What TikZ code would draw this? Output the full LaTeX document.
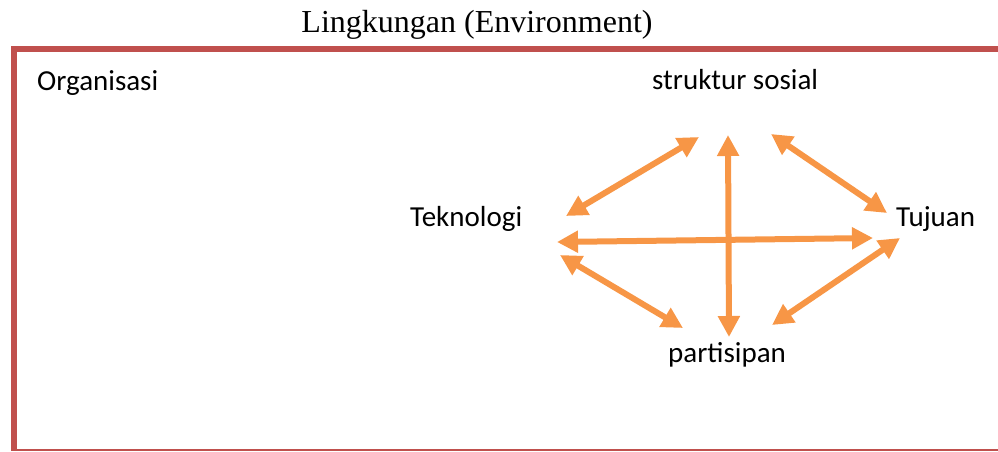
\documentclass[tikz,border=0pt]{standalone}
\usepackage{fontspec}
\setmainfont{Liberation Serif}
\newfontfamily\labelfont{Carlito}
\usetikzlibrary{arrows.meta}
\definecolor{frame}{HTML}{C0504D}
\definecolor{link}{HTML}{F79646}
\tikzset{
  lbl/.style={font=\labelfont\fontsize{29}{34}\selectfont, anchor=base west, inner sep=0pt},
  ttl/.style={font=\fontsize{32}{38}\selectfont, anchor=base, inner sep=0pt},
  rel/.style={draw=link, line width=6pt,
    {Triangle[length=21pt,width=21pt]}-{Triangle[length=21pt,width=21pt]}},
  edge/.style={draw=frame, line width=6pt},
}
\begin{document}
\begin{tikzpicture}[x=1pt,y=-1pt]
  \useasboundingbox (0,0) rectangle (998,451);
  % environment frame
  \draw[edge] (11,49) -- (998,49);
  \draw[edge] (14,46) -- (14,451);
  \draw[draw=frame, line width=2pt] (11,450) -- (998,450);
  % labels
  \node[ttl] (env) at (477,32) {Lingkungan (Environment)};
  \node[lbl] (org) at (37,90) {Organisasi};
  \node[lbl] (sos) at (652,89) {struktur sosial};
  \node[lbl] (tek) at (410,226) {Teknologi};
  \node[lbl] (tuj) at (896,226) {Tujuan};
  \node[lbl] (par) at (668,362) {partisipan};
  % arrow end points
  \coordinate (a1) at (566,216);  \coordinate (b1) at (699,137);
  \coordinate (a2) at (728,135);  \coordinate (b2) at (729,337);
  \coordinate (a3) at (557,242);  \coordinate (b3) at (873,238);
  \coordinate (a4) at (772,325);  \coordinate (b4) at (900,238);
  \coordinate (a5) at (771,134);  \coordinate (b5) at (887,213);
  \coordinate (a6) at (560,255);  \coordinate (b6) at (683,328);
  % relations
  \draw[rel] (a1) -- (b1);
  \draw[rel] (a2) -- (b2);
  \draw[rel] (a3) -- (b3);
  \draw[rel] (a4) -- (b4);
  \draw[rel] (a5) -- (b5);
  \draw[rel] (a6) -- (b6);
\end{tikzpicture}
\end{document}
